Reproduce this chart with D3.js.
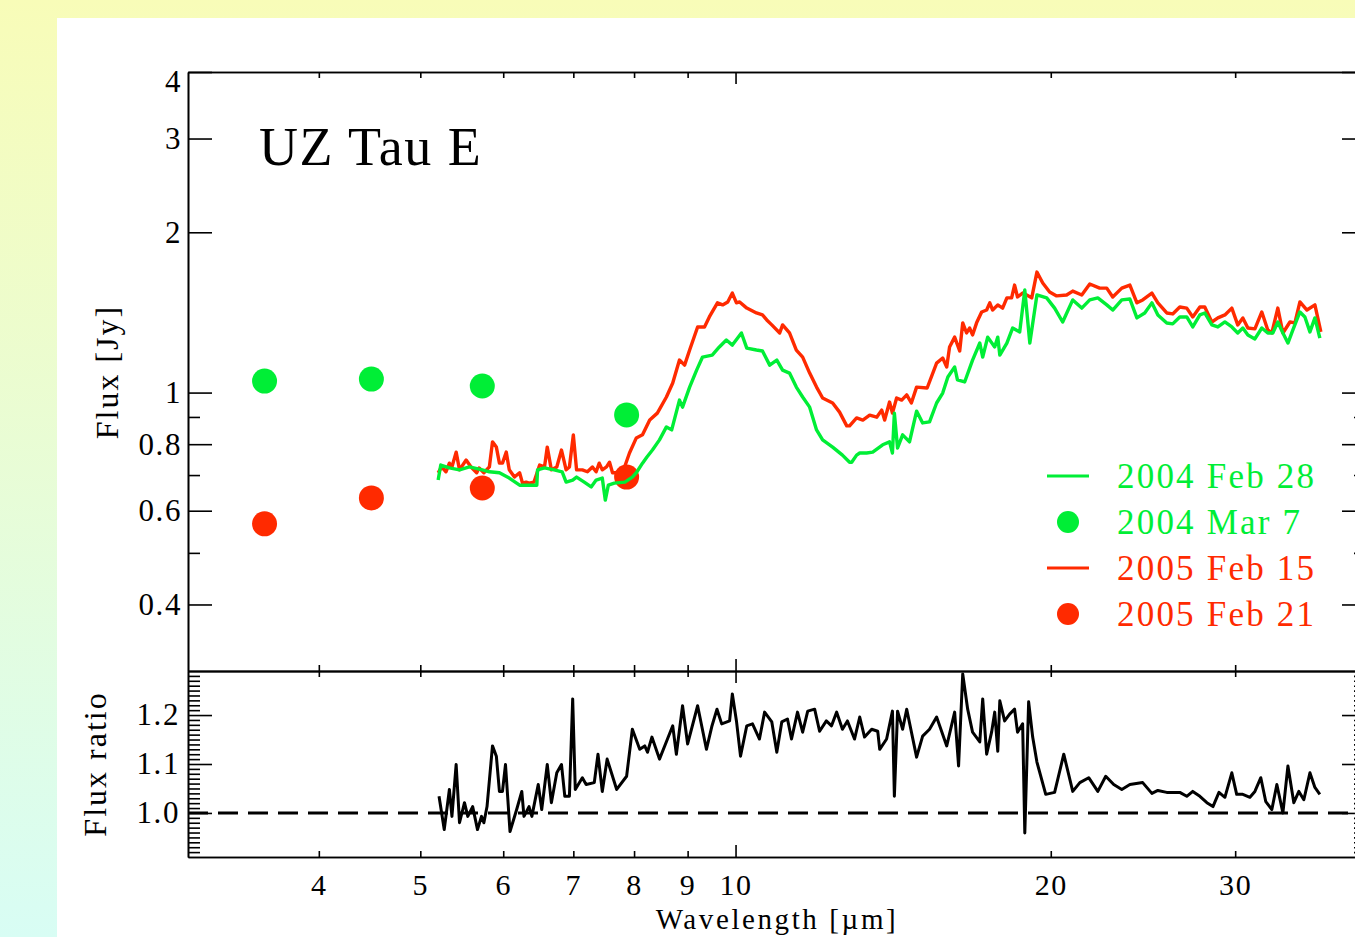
<!DOCTYPE html>
<html>
<head>
<meta charset="utf-8">
<script src="https://cdn.jsdelivr.net/npm/d3@7"></script>
<style>
  body { margin: 0; overflow: hidden; }
  svg { display: block; }
</style>
</head>
<body>
<svg id="chart" width="1355" height="937"></svg>
<script>
// IRAC photometry, wavelength in um, flux in Jy
var iracWave = [3.55, 4.49, 5.73, 7.87];
var iracMar2004 = [1.051, 1.06, 1.029, 0.908];
var iracFeb2005 = [0.567, 0.634, 0.662, 0.694];

// IRS spectra, [wavelength um, flux Jy]
var irsFeb2004 = [[5.20,0.685],[5.23,0.731],[5.33,0.722],[5.45,0.716],[5.57,0.725],[5.73,0.716],[5.82,0.710],[5.95,0.707],[6.08,0.691],[6.22,0.670],[6.35,0.670],[6.46,0.670],[6.47,0.716],[6.57,0.722],[6.71,0.716],[6.83,0.710],[6.89,0.679],[6.99,0.685],[7.05,0.694],[7.17,0.679],[7.28,0.665],[7.36,0.685],[7.46,0.691],[7.51,0.628],[7.56,0.670],[7.66,0.676],[7.84,0.679],[7.97,0.694],[8.04,0.707],[8.15,0.737],[8.23,0.757],[8.33,0.780],[8.46,0.815],[8.59,0.862],[8.69,0.851],[8.84,0.968],[8.90,0.939],[9.04,1.024],[9.18,1.102],[9.30,1.166],[9.50,1.176],[9.65,1.218],[9.80,1.255],[9.93,1.228],[10.13,1.294],[10.25,1.212],[10.47,1.202],[10.61,1.197],[10.78,1.126],[10.95,1.151],[11.09,1.102],[11.26,1.088],[11.43,1.024],[11.59,0.981],[11.77,0.939],[11.95,0.851],[12.11,0.815],[12.38,0.790],[12.65,0.763],[12.85,0.740],[12.91,0.740],[13.05,0.763],[13.14,0.770],[13.34,0.770],[13.52,0.773],[13.82,0.798],[14.03,0.808],[14.12,0.770],[14.18,0.915],[14.28,0.787],[14.44,0.833],[14.66,0.808],[14.89,0.923],[15.09,0.877],[15.32,0.881],[15.56,0.956],[15.77,0.998],[15.95,1.070],[16.19,1.117],[16.29,1.056],[16.55,1.047],[16.84,1.151],[17.11,1.239],[17.22,1.166],[17.41,1.271],[17.68,1.218],[17.80,1.271],[17.88,1.176],[18.16,1.239],[18.39,1.322],[18.68,1.300],[18.89,1.558],[19.10,1.239],[19.40,1.525],[19.82,1.506],[20.17,1.441],[20.53,1.357],[20.99,1.493],[21.41,1.441],[21.79,1.493],[22.18,1.506],[22.62,1.461],[22.92,1.429],[23.38,1.493],[23.80,1.499],[24.17,1.381],[24.59,1.411],[24.98,1.474],[25.31,1.399],[25.81,1.351],[26.15,1.346],[26.56,1.387],[26.97,1.387],[27.33,1.328],[27.76,1.399],[28.06,1.411],[28.50,1.340],[28.88,1.328],[29.33,1.357],[29.78,1.328],[30.17,1.294],[30.51,1.322],[30.85,1.283],[31.33,1.261],[31.81,1.322],[32.23,1.294],[32.59,1.294],[32.95,1.357],[33.32,1.294],[33.69,1.239],[34.06,1.311],[34.59,1.417],[34.97,1.387],[35.36,1.300],[35.75,1.381],[36.14,1.266]];

var irsFeb2005 = [[5.20,0.707],[5.24,0.725],[5.29,0.710],[5.33,0.737],[5.36,0.725],[5.41,0.773],[5.45,0.716],[5.53,0.747],[5.59,0.725],[5.66,0.707],[5.69,0.722],[5.75,0.707],[5.82,0.725],[5.86,0.808],[5.91,0.790],[5.95,0.737],[5.99,0.737],[6.04,0.773],[6.08,0.716],[6.15,0.694],[6.22,0.707],[6.26,0.676],[6.31,0.679],[6.35,0.676],[6.42,0.679],[6.50,0.731],[6.57,0.725],[6.61,0.790],[6.67,0.716],[6.75,0.725],[6.82,0.780],[6.89,0.716],[6.94,0.725],[7.00,0.833],[7.05,0.716],[7.14,0.716],[7.22,0.710],[7.30,0.725],[7.36,0.710],[7.41,0.737],[7.46,0.716],[7.53,0.725],[7.58,0.740],[7.63,0.707],[7.80,0.707],[7.92,0.770],[8.04,0.822],[8.15,0.833],[8.28,0.888],[8.42,0.915],[8.59,0.981],[8.71,1.042],[8.84,1.151],[8.94,1.126],[9.04,1.202],[9.20,1.328],[9.34,1.328],[9.44,1.387],[9.61,1.474],[9.72,1.461],[9.83,1.480],[9.93,1.538],[10.02,1.474],[10.09,1.480],[10.25,1.441],[10.47,1.411],[10.61,1.399],[10.71,1.369],[10.83,1.340],[11.02,1.294],[11.09,1.340],[11.26,1.294],[11.43,1.202],[11.59,1.166],[11.77,1.088],[11.95,1.024],[12.11,0.977],[12.38,0.956],[12.57,0.919],[12.77,0.866],[12.85,0.866],[13.05,0.896],[13.23,0.888],[13.43,0.907],[13.64,0.899],[13.79,0.927],[13.88,0.888],[14.03,0.960],[14.12,0.915],[14.25,0.977],[14.41,0.968],[14.57,0.990],[14.72,0.956],[14.89,1.024],[15.24,1.020],[15.56,1.136],[15.77,1.161],[15.91,1.117],[16.01,1.218],[16.19,1.271],[16.37,1.197],[16.48,1.352],[16.62,1.294],[16.73,1.322],[16.84,1.283],[16.99,1.352],[17.18,1.417],[17.37,1.429],[17.49,1.474],[17.60,1.429],[17.80,1.461],[17.99,1.441],[18.16,1.506],[18.35,1.506],[18.47,1.592],[18.59,1.512],[18.80,1.538],[18.97,1.525],[19.18,1.506],[19.40,1.684],[19.65,1.606],[19.95,1.545],[20.26,1.519],[20.71,1.525],[20.99,1.551],[21.41,1.525],[21.79,1.599],[22.27,1.571],[22.62,1.571],[22.92,1.512],[23.38,1.571],[23.80,1.592],[24.17,1.474],[24.48,1.493],[24.98,1.538],[25.31,1.474],[25.81,1.411],[26.15,1.405],[26.56,1.448],[26.97,1.441],[27.33,1.387],[27.76,1.448],[28.06,1.448],[28.50,1.357],[28.88,1.381],[29.33,1.399],[29.78,1.441],[30.17,1.340],[30.51,1.381],[30.85,1.322],[31.33,1.317],[31.81,1.417],[32.23,1.311],[32.52,1.294],[32.95,1.441],[33.32,1.294],[33.84,1.357],[34.21,1.352],[34.59,1.480],[35.13,1.429],[35.75,1.461],[36.22,1.300]];

// 2005 / 2004 flux ratio, [wavelength um, ratio]
var fluxRatio = [[5.21,1.034],[5.27,0.966],[5.33,1.048],[5.36,0.993],[5.41,1.099],[5.45,0.980],[5.51,1.021],[5.55,0.993],[5.61,1.013],[5.67,0.966],[5.72,0.993],[5.75,0.980],[5.79,1.013],[5.86,1.137],[5.91,1.116],[5.95,1.044],[5.99,1.044],[6.03,1.099],[6.09,0.962],[6.18,1.007],[6.25,1.044],[6.28,0.993],[6.35,1.013],[6.39,0.993],[6.48,1.058],[6.53,1.007],[6.61,1.099],[6.67,1.021],[6.75,1.082],[6.82,1.099],[6.87,1.034],[6.94,1.034],[6.99,1.233],[7.03,1.048],[7.14,1.072],[7.20,1.058],[7.33,1.062],[7.39,1.120],[7.46,1.044],[7.54,1.110],[7.70,1.048],[7.87,1.075],[7.97,1.171],[8.10,1.130],[8.19,1.137],[8.24,1.124],[8.32,1.155],[8.46,1.110],[8.61,1.151],[8.71,1.178],[8.78,1.120],[8.90,1.219],[9.00,1.141],[9.20,1.219],[9.38,1.130],[9.49,1.176],[9.60,1.212],[9.70,1.182],[9.87,1.188],[9.93,1.243],[10.02,1.188],[10.11,1.116],[10.25,1.178],[10.38,1.182],[10.54,1.151],[10.66,1.206],[10.83,1.186],[10.95,1.124],[11.07,1.186],[11.21,1.192],[11.31,1.151],[11.46,1.206],[11.59,1.165],[11.72,1.208],[11.90,1.212],[12.03,1.167],[12.21,1.188],[12.35,1.178],[12.49,1.206],[12.65,1.171],[12.79,1.188],[12.99,1.151],[13.14,1.196],[13.28,1.155],[13.49,1.171],[13.67,1.167],[13.73,1.130],[13.94,1.151],[14.12,1.208],[14.18,1.034],[14.28,1.208],[14.44,1.171],[14.57,1.212],[14.89,1.114],[15.09,1.157],[15.32,1.171],[15.56,1.196],[15.91,1.137],[16.19,1.206],[16.33,1.096],[16.48,1.284],[16.66,1.212],[16.84,1.165],[17.11,1.145],[17.22,1.233],[17.37,1.120],[17.56,1.165],[17.68,1.206],[17.80,1.126],[17.88,1.229],[18.07,1.188],[18.27,1.202],[18.47,1.212],[18.59,1.165],[18.80,1.182],[18.89,0.959],[19.05,1.227],[19.22,1.155],[19.40,1.104],[19.78,1.038],[20.17,1.042],[20.58,1.120],[20.99,1.044],[21.32,1.062],[21.74,1.072],[22.18,1.044],[22.57,1.075],[22.97,1.058],[23.38,1.048],[23.80,1.058],[24.48,1.062],[24.98,1.040],[25.31,1.046],[25.81,1.042],[26.56,1.042],[26.97,1.034],[27.33,1.044],[27.76,1.034],[28.19,1.021],[28.57,1.013],[28.95,1.042],[29.33,1.032],[29.78,1.082],[30.10,1.038],[30.51,1.038],[30.99,1.032],[31.33,1.044],[31.74,1.072],[32.09,1.023],[32.52,1.007],[32.88,1.058],[33.32,1.000],[33.69,1.096],[34.13,1.021],[34.51,1.044],[34.89,1.027],[35.36,1.082],[35.75,1.052],[36.14,1.038]];

// ticks and labels
var xTickMinor = [4, 5, 6, 7, 8, 9, 20, 30];
var xTickMajor = [10];
var xTickLabels = [4, 5, 6, 7, 8, 9, 10, 20, 30];
var fluxTickMajor = [0.4, 0.6, 0.8, 1, 2, 3, 4];
var fluxTickMinor = [0.5, 0.7, 0.9];
var ratioTickMajor = [1.0, 1.1, 1.2];
var legendLabels = ['2004 Feb 28', '2004 Mar 7', '2005 Feb 15', '2005 Feb 21'];

var green = '#00ee36', red = '#ff2a00';
var font = 'Liberation Serif, serif';

var svg = d3.select('#chart');

// yellow-cyan page background with white sheet
var grad = svg.append('defs').append('linearGradient').attr('id', 'bg')
  .attr('x1', 0).attr('y1', 0).attr('x2', 0).attr('y2', 1);
grad.append('stop').attr('offset', '0%').attr('stop-color', '#f8fcb8');
grad.append('stop').attr('offset', '100%').attr('stop-color', '#d8fdf4');
svg.append('rect').attr('width', 1355).attr('height', 937).attr('fill', 'url(#bg)');
svg.append('rect').attr('x', 57).attr('y', 18).attr('width', 1298).attr('height', 919).attr('fill', '#fff');

var x = d3.scaleLog().domain([3, 40]).range([188, 1366]);
var yFlux = d3.scaleLog().domain([0.3, 4]).range([671, 72]);
var yRatio = d3.scaleLinear().domain([0.91, 1.29]).range([857, 671]);

var ratioTickMinor = d3.range(92, 129).map(function (d) { return d / 100; })
  .filter(function (d) { return ratioTickMajor.indexOf(d) < 0; });

function addAxis(axis, tx, ty, ticks, size, fmt, pad) {
  axis.tickValues(ticks).tickSize(-size).tickSizeOuter(0).tickPadding(pad || 8)
    .tickFormat(fmt || function () { return ''; });
  var g = svg.append('g').attr('transform', 'translate(' + tx + ',' + ty + ')').call(axis)
    .attr('font-family', font).attr('font-size', 31).attr('letter-spacing', 1.6);
  g.selectAll('line, path').attr('stroke', '#000').attr('stroke-width', 1.6);
  g.selectAll('text').attr('fill', '#000');
  return g;
}

// top panel frame
addAxis(d3.axisTop(x), 0, 72, xTickMinor, 6);
addAxis(d3.axisTop(x), 0, 72, xTickMajor, 12);
addAxis(d3.axisBottom(x), 0, 671, xTickMinor, 6);
addAxis(d3.axisBottom(x), 0, 671, xTickMajor, 12);
var fl = addAxis(d3.axisLeft(yFlux), 188, 0, fluxTickMajor, 24, String, 6);
addAxis(d3.axisLeft(yFlux), 188, 0, fluxTickMinor, 12);
addAxis(d3.axisRight(yFlux), 1366, 0, fluxTickMajor, 24);
addAxis(d3.axisRight(yFlux), 1366, 0, fluxTickMinor, 12);
fl.selectAll('text').filter(function (d) { return d === 4; }).attr('dy', '0.62em');

// bottom panel frame
addAxis(d3.axisTop(x), 0, 671, xTickMinor, 6);
addAxis(d3.axisTop(x), 0, 671, xTickMajor, 12);
addAxis(d3.axisBottom(x), 0, 857, xTickMinor, 6);
addAxis(d3.axisBottom(x), 0, 857, xTickMajor, 12);
addAxis(d3.axisBottom(x), 0, 857, xTickLabels, 0, String, 17)
  .attr('font-size', 30).select('.domain').remove();
addAxis(d3.axisLeft(yRatio), 188, 0, ratioTickMajor, 24, function (d) { return d.toFixed(1); }, 8);
addAxis(d3.axisLeft(yRatio), 188, 0, ratioTickMinor, 12);
addAxis(d3.axisRight(yRatio), 1366, 0, ratioTickMajor, 24);
addAxis(d3.axisRight(yRatio), 1366, 0, ratioTickMinor, 12);

// spectra
var fluxLine = d3.line().x(function (d) { return x(d[0]); }).y(function (d) { return yFlux(d[1]); });
var ratioLine = d3.line().x(function (d) { return x(d[0]); }).y(function (d) { return yRatio(d[1]); });

svg.append('path').datum(irsFeb2005).attr('d', fluxLine)
  .attr('fill', 'none').attr('stroke', red).attr('stroke-width', 3.4).attr('stroke-linejoin', 'round');

svg.selectAll('circle.feb05').data(iracWave).enter().append('circle').attr('class', 'feb05')
  .attr('cx', function (d) { return x(d); })
  .attr('cy', function (d, i) { return yFlux(iracFeb2005[i]); })
  .attr('r', 12.5).attr('fill', red);

svg.append('path').datum(irsFeb2004).attr('d', fluxLine)
  .attr('fill', 'none').attr('stroke', green).attr('stroke-width', 3.4).attr('stroke-linejoin', 'round');

svg.selectAll('circle.mar04').data(iracWave).enter().append('circle').attr('class', 'mar04')
  .attr('cx', function (d) { return x(d); })
  .attr('cy', function (d, i) { return yFlux(iracMar2004[i]); })
  .attr('r', 12.5).attr('fill', green);

// ratio panel
svg.append('line').attr('x1', 188).attr('x2', 1366)
  .attr('y1', yRatio(1)).attr('y2', yRatio(1))
  .attr('stroke', '#000').attr('stroke-width', 3).attr('stroke-dasharray', '20,10');

svg.append('path').datum(fluxRatio).attr('d', ratioLine)
  .attr('fill', 'none').attr('stroke', '#000').attr('stroke-width', 3).attr('stroke-linejoin', 'round');

// labels
svg.append('text').attr('x', 259).attr('y', 165).attr('font-family', font)
  .attr('font-size', 54).attr('letter-spacing', 1.5).text('UZ Tau E');

svg.append('text').attr('transform', 'translate(118,372) rotate(-90)')
  .attr('text-anchor', 'middle').attr('font-family', font).attr('font-size', 32)
  .attr('letter-spacing', 2).text('Flux [Jy]');
svg.append('text').attr('transform', 'translate(106,764) rotate(-90)')
  .attr('text-anchor', 'middle').attr('font-family', font).attr('font-size', 32)
  .attr('letter-spacing', 2).text('Flux ratio');
svg.append('text').attr('x', 777).attr('y', 929).attr('text-anchor', 'middle')
  .attr('font-family', font).attr('font-size', 29).attr('letter-spacing', 2.6)
  .text('Wavelength [\u00b5m]');

// legend
var legendColors = [green, green, red, red];
var legend = svg.append('g').attr('font-family', font).attr('font-size', 35).attr('letter-spacing', 2.2);
legendLabels.forEach(function (label, i) {
  var ly = 476 + i * 46;
  if (i % 2 === 0) {
    legend.append('line').attr('x1', 1047).attr('x2', 1089).attr('y1', ly).attr('y2', ly)
      .attr('stroke', legendColors[i]).attr('stroke-width', 3);
  } else {
    legend.append('circle').attr('cx', 1068).attr('cy', ly).attr('r', 11).attr('fill', legendColors[i]);
  }
  legend.append('text').attr('x', 1117).attr('y', ly + 12).attr('fill', legendColors[i]).text(label);
});
</script>
</body>
</html>
